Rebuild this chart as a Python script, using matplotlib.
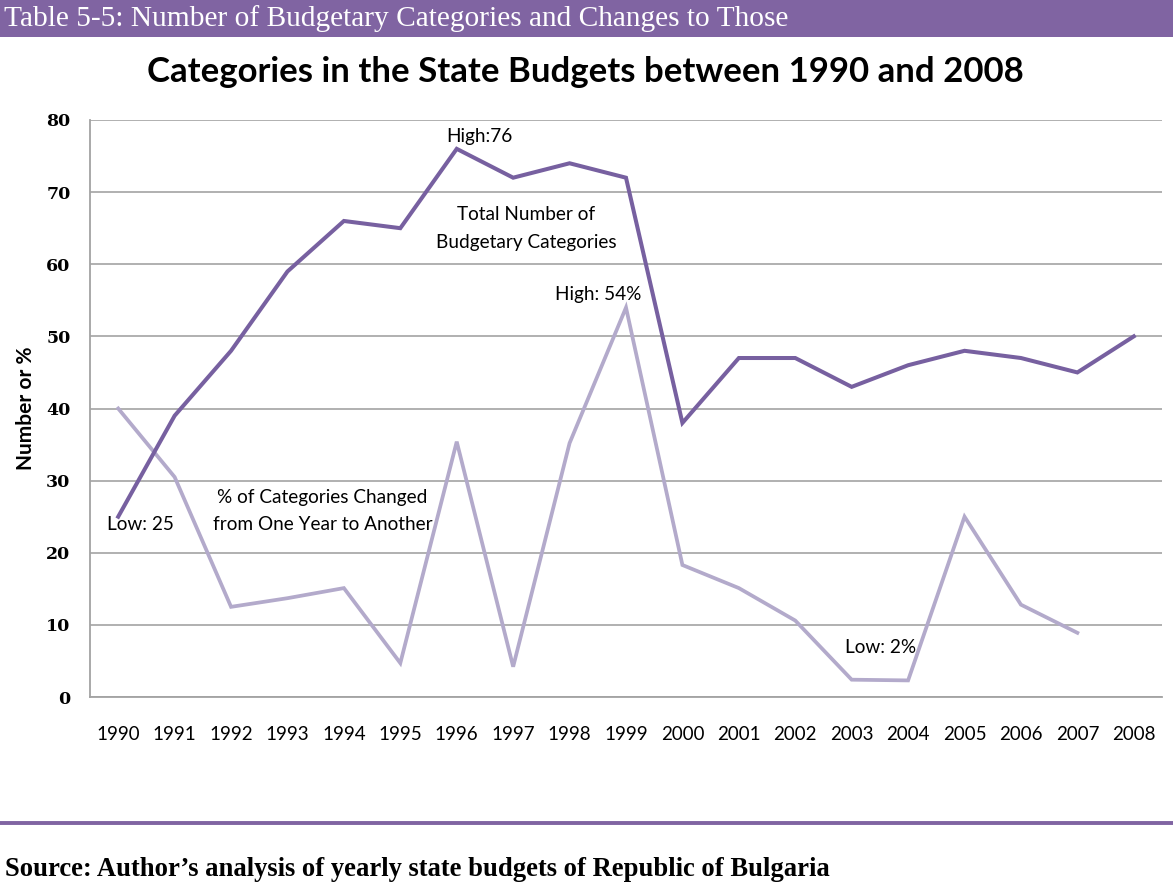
import matplotlib
matplotlib.use("Agg")
import matplotlib.pyplot as plt
from matplotlib.lines import Line2D
from matplotlib.patches import Rectangle

years = [str(y) for y in range(1990, 2009)]
total_categories = [25, 39, 48, 59, 66, 65, 76, 72, 74, 72, 38, 47, 47, 43, 46, 48, 47, 45, 50]
pct_changed = [40, 30.5, 12.5, 13.7, 15.1, 4.7, 35.4, 4.2, 35.2, 54, 18.3, 15.1, 10.6, 2.4, 2.3, 25, 12.8, 8.9, None]
y_ticks = [0, 10, 20, 30, 40, 50, 60, 70, 80]

header_text = "Table 5-5: Number of Budgetary Categories and Changes to Those"
title_text = "Categories in the State Budgets between 1990 and 2008"
source_text = "Source: Author\u2019s analysis of yearly state budgets of Republic of Bulgaria"

W, H = 1173, 884
fig = plt.figure(figsize=(W / 100, H / 100), dpi=100)
fig.patch.set_facecolor("white")

PURPLE = "#8064A2"
DARK = "#7760A0"
LIGHT = "#B3AACB"
GRID = "#A3A3A3"
sans = ["Lato", "DejaVu Sans"]
serif = ["Liberation Serif", "DejaVu Serif"]

# header bar
fig.add_artist(Rectangle((0, 1 - 37 / H), 1, 37 / H, transform=fig.transFigure,
                         facecolor=PURPLE, edgecolor="none"))
fig.text(4 / W, 1 - 19 / H, header_text, family=serif, fontsize=21.2, color="white",
         va="center", ha="left")

# title
fig.text(585 / W, 1 - 72 / H, title_text, family=sans, fontweight="bold", fontsize=25,
         color="black", ha="center", va="center")

# bottom rule and source
fig.add_artist(Line2D([0, 1], [1 - 823 / H, 1 - 823 / H], transform=fig.transFigure,
                      color=PURPLE, lw=2.8))
fig.text(5 / W, 1 - 869 / H, source_text, family=serif, fontweight="bold", fontsize=19.2,
         color="black", ha="left", va="center")

ax = fig.add_axes([90 / W, 1 - 697 / H, (1162 - 90) / W, (697 - 120) / H])
x = list(range(len(years)))
ax.set_xlim(-0.5, len(years) - 0.5)
ax.set_ylim(0, 80)
ax.set_yticks(y_ticks)
ax.set_xticks(x)
ax.set_xticklabels(years, family=sans, fontsize=13.5, color="black")
ax.set_yticklabels([str(v) for v in y_ticks], family=["DejaVu Serif"], fontweight="bold", fontsize=12.5)
ax.tick_params(axis="both", length=0)
ax.tick_params(axis="x", pad=21)
ax.tick_params(axis="y", pad=14)
ax.grid(axis="y", color=GRID, lw=1.2)
ax.set_axisbelow(True)
for s in ["top", "right"]:
    ax.spines[s].set_visible(False)
for s in ["left", "bottom"]:
    ax.spines[s].set_color(GRID)
    ax.spines[s].set_linewidth(1.3)

xs2 = [i for i, v in enumerate(pct_changed) if v is not None]
ys2 = [v for v in pct_changed if v is not None]
ax.plot(xs2, ys2, color=LIGHT, lw=2.7, solid_joinstyle="miter")
ax.plot(x, total_categories, color=DARK, lw=2.9, solid_joinstyle="miter")

ax.set_ylabel("Number or %", family=sans, fontweight="bold", fontsize=15)
ax.yaxis.set_label_coords(-(90 - 36) / (1162 - 90), (697 - 408) / (697 - 120))

fs = 13.7
ax.text(6.41, 77.7, "High:76", family=sans, fontsize=fs, ha="center", va="center")
ax.text(7.23, 66.9, "Total Number of", family=sans, fontsize=fs, ha="center", va="center")
ax.text(7.23, 63.0, "Budgetary Categories", family=sans, fontsize=fs, ha="center", va="center")
ax.text(8.51, 55.8, "High: 54%", family=sans, fontsize=fs, ha="center", va="center")
ax.text(0.39, 23.9, "Low: 25", family=sans, fontsize=fs, ha="center", va="center")
ax.text(3.62, 27.7, "% of Categories Changed", family=sans, fontsize=fs, ha="center", va="center")
ax.text(3.62, 23.9, "from One Year to Another", family=sans, fontsize=fs, ha="center", va="center")
ax.text(13.52, 6.8, "Low: 2%", family=sans, fontsize=fs, ha="center", va="center")

fig.savefig("out.png", dpi=100)
